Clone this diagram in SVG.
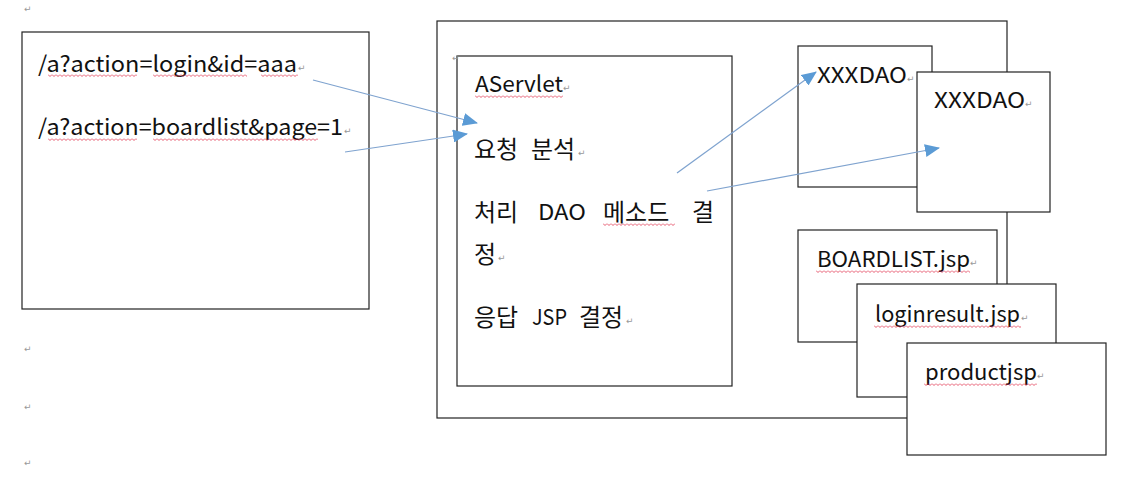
<svg xmlns="http://www.w3.org/2000/svg" width="1136" height="482" viewBox="0 0 1136 482">
<style>
.box{fill:#fff;stroke:#222;stroke-width:1.2}
.t{font-family:"Noto Sans CJK KR","Noto Sans",sans-serif;font-size:22px;fill:#111}
.k{font-family:"Noto Sans CJK KR",sans-serif;font-size:24px;fill:#111}
.pm{font-family:"DejaVu Sans",sans-serif;font-size:9px;fill:#999}
.conn{stroke:#7fa3cf;stroke-width:1.2;fill:none}
</style>
<defs>
<marker id="ah" viewBox="0 0 15 13" refX="14" refY="6.5" markerWidth="15" markerHeight="13" orient="auto" markerUnits="userSpaceOnUse">
<path d="M0,0 L15,6.5 L0,13 z" fill="#5b9bd5"/>
</marker>
<pattern id="wave" patternUnits="userSpaceOnUse" width="4" height="3">
<path d="M0,0.5 L2,2.5 L4,0.5" fill="none" stroke="#e0304a" stroke-width="0.8"/>
</pattern>
</defs>
<rect width="1136" height="482" fill="#fff"/>

<g id="marks">
<text class="pm" x="24" y="12">↵</text>
<text class="pm" x="24" y="352">↵</text>
<text class="pm" x="24" y="410">↵</text>
<text class="pm" x="24" y="466">↵</text>
</g>

<g id="requests">
<rect class="box" x="22" y="32" width="347" height="277"/>
<text class="t" x="38" y="72" textLength="259" lengthAdjust="spacingAndGlyphs">/a?action=login&amp;id=aaa</text>
<text class="pm" x="298" y="71">↵</text>
<text class="t" x="38" y="135" textLength="305" lengthAdjust="spacingAndGlyphs">/a?action=boardlist&amp;page=1</text>
<text class="pm" x="344" y="134">↵</text>
<rect x="0" y="0" width="89" height="3" fill="url(#wave)" transform="translate(48,74)"/>
<rect x="0" y="0" width="94" height="3" fill="url(#wave)" transform="translate(153,74)"/>
<rect x="0" y="0" width="37" height="3" fill="url(#wave)" transform="translate(261,74)"/>
<rect x="0" y="0" width="89" height="3" fill="url(#wave)" transform="translate(48,138)"/>
<rect x="0" y="0" width="165" height="3" fill="url(#wave)" transform="translate(153,138)"/>
</g>

<g id="container">
<rect class="box" x="437" y="21" width="570" height="397"/>
</g>

<g id="aservlet">
<rect class="box" x="457" y="56" width="275" height="330"/>
<text class="pm" x="452" y="61">↵</text>
<text class="t" x="475" y="92" textLength="88" lengthAdjust="spacingAndGlyphs">AServlet</text>
<text class="pm" x="563" y="91">↵</text>
<rect x="0" y="0" width="88" height="3" fill="url(#wave)" transform="translate(475,95)"/>
<text class="k" y="158"><tspan x="474">요청</tspan><tspan x="531">분석</tspan></text>
<text class="pm" x="578" y="156">↵</text>
<text class="k" y="221"><tspan x="474">처리</tspan><tspan x="603">메소드</tspan><tspan x="692">결</tspan></text>
<text class="t" x="538" y="220" textLength="48" lengthAdjust="spacingAndGlyphs">DAO</text>
<rect x="0" y="0" width="72" height="3" fill="url(#wave)" transform="translate(603,223)"/>
<text class="k" x="474" y="263">정</text>
<text class="pm" x="498" y="261">↵</text>
<text class="k" y="326"><tspan x="474">응답</tspan><tspan x="579">결정</tspan></text>
<text class="t" x="532" y="325" textLength="35" lengthAdjust="spacingAndGlyphs">JSP</text>
<text class="pm" x="626" y="324">↵</text>
</g>

<g id="dao1">
<rect class="box" x="798" y="46" width="134" height="141"/>
<text class="t" x="817" y="83" textLength="90" lengthAdjust="spacingAndGlyphs">XXXDAO</text>
<text class="pm" x="907" y="82">↵</text>
</g>

<g id="dao2">
<rect class="box" x="917" y="72" width="133" height="140"/>
<text class="t" x="934" y="108" textLength="91" lengthAdjust="spacingAndGlyphs">XXXDAO</text>
<text class="pm" x="1025" y="107">↵</text>
</g>

<g id="boardlist">
<rect class="box" x="798" y="230" width="199" height="112"/>
<text class="t" x="817" y="267" textLength="153" lengthAdjust="spacingAndGlyphs">BOARDLIST.jsp</text>
<text class="pm" x="970" y="266">↵</text>
<rect x="0" y="0" width="154" height="3" fill="url(#wave)" transform="translate(816,270)"/>
</g>

<g id="loginresult">
<rect class="box" x="857" y="284" width="199" height="113"/>
<text class="t" x="875" y="322" textLength="145" lengthAdjust="spacingAndGlyphs">loginresult.jsp</text>
<text class="pm" x="1021" y="321">↵</text>
<rect x="0" y="0" width="147" height="3" fill="url(#wave)" transform="translate(874,325)"/>
</g>

<g id="productjsp">
<rect class="box" x="907" y="343" width="199" height="112"/>
<text class="t" x="925" y="380" textLength="112" lengthAdjust="spacingAndGlyphs">productjsp</text>
<text class="pm" x="1037" y="379">↵</text>
<rect x="0" y="0" width="113" height="3" fill="url(#wave)" transform="translate(924,383)"/>
</g>

<g id="connectors">
<line class="conn" x1="313" y1="80" x2="477" y2="123" marker-end="url(#ah)"/>
<line class="conn" x1="345" y1="152" x2="467" y2="134" marker-end="url(#ah)"/>
<line class="conn" x1="677" y1="173" x2="816" y2="72" marker-end="url(#ah)"/>
<line class="conn" x1="707" y1="191" x2="939" y2="148" marker-end="url(#ah)"/>
</g>
</svg>
